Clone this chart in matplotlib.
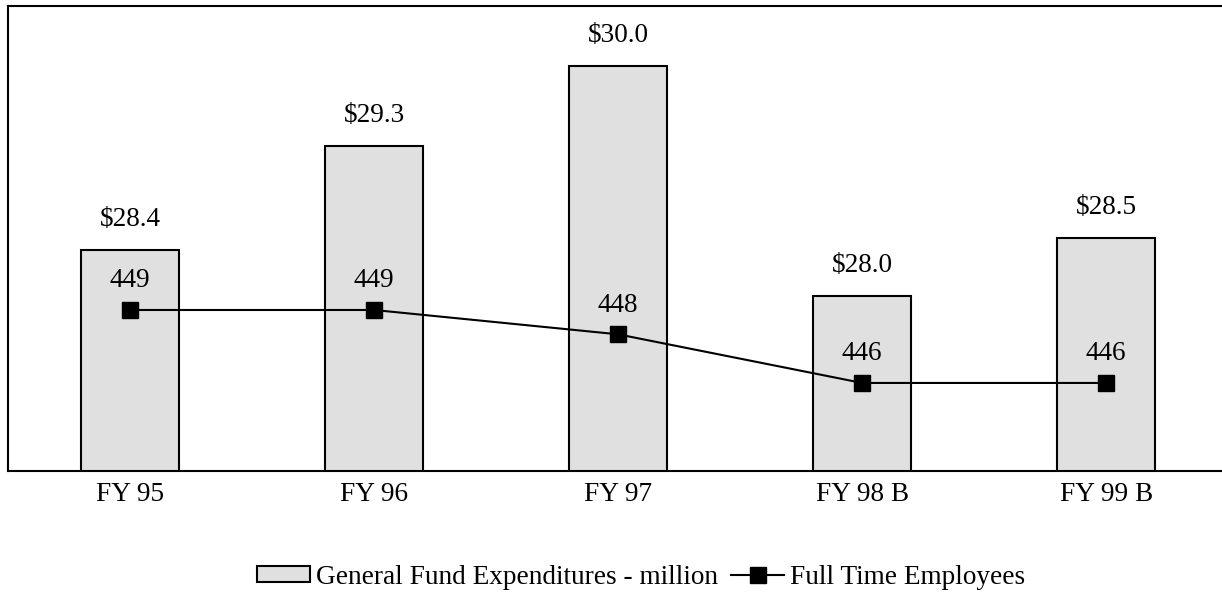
import numpy as np
import matplotlib
matplotlib.use('Agg')
import matplotlib.pyplot as plt

years = ['FY 95', 'FY 96', 'FY 97', 'FY 98 B', 'FY 99 B']
spend = [28.4, 29.3, 30.0, 28.0, 28.5]      # general fund, million $
staff = [449, 449, 448, 446, 446]           # full time employees

plt.rcParams['font.family'] = ['Liberation Serif', 'DejaVu Serif']
fs = 19.6

fig = plt.figure(figsize=(12.22, 5.92), dpi=100)
ax = fig.add_axes([0.00655, 0.2044, 0.9985, 0.7855])
x = np.arange(len(years))

bars = ax.bar(x, spend, width=0.4, color='#e0e0e0', edgecolor='black', linewidth=1.5,
              label='General Fund Expenditures - million', zorder=2)
ax.set_ylim(26.48, 30.52)
ax.set_xlim(-0.5, 4.5)
for xi, v in zip(x, spend):
    ax.annotate('$%.1f' % v, (xi, v), xytext=(0, 22), textcoords='offset points',
                ha='center', va='center', fontsize=fs)

ax.set_xticks(x)
ax.set_xticklabels(years, fontsize=fs)
ax.tick_params(axis='x', length=0, pad=8)
ax.set_yticks([])
for s in ['left', 'top', 'bottom']:
    ax.spines[s].set_linewidth(1.5)
ax.spines['right'].set_visible(False)

ax2 = ax.twinx()
ln, = ax2.plot(x, staff, color='black', marker='s', markersize=11, linewidth=1.5,
               label='Full Time Employees', zorder=3)
ax2.set_ylim(442.38, 461.5)
ax2.axis('off')
for xi, v in zip(x, staff):
    ax2.annotate('%d' % v, (xi, v), xytext=(0, 21), textcoords='offset points',
                 ha='center', va='center', fontsize=fs)

fig.legend([bars, ln], ['General Fund Expenditures - million', 'Full Time Employees'],
           loc='center', bbox_to_anchor=(0.5245, 0.025), ncol=2, frameon=False,
           fontsize=fs, handlelength=1.95, handleheight=0.55, handletextpad=0.2,
           columnspacing=0.5, borderaxespad=0)

fig.savefig('out.png', dpi=100)
